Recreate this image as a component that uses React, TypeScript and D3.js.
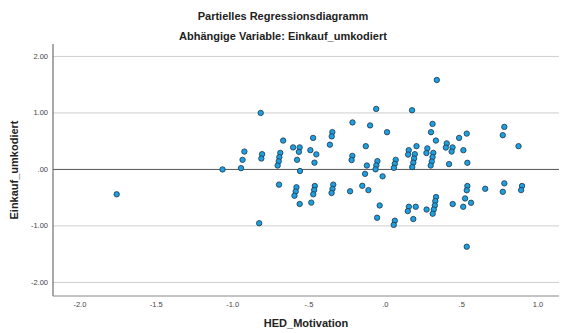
import React from "react";
import * as d3 from "d3";

const xValues: number[] = [
  -1.759, -1.066, -0.945, -0.935, -0.923, -0.816, -0.807, -0.812, -0.826, -0.669,
  -0.688, -0.694, -0.698, -0.705, -0.696, -0.604, -0.561, -0.566, -0.578, -0.559,
  -0.582, -0.587, -0.595, -0.561, -0.473, -0.491, -0.452, -0.464, -0.462, -0.466,
  -0.472, -0.485, -0.347, -0.351, -0.363, -0.341, -0.346, -0.352, -0.215, -0.216,
  -0.221, -0.231, -0.128, -0.121, -0.133, -0.151, -0.111, -0.100, -0.060, 0.011,
  -0.052, -0.059, -0.064, -0.018, -0.037, -0.054, 0.068, 0.062, 0.056, 0.062,
  0.055, 0.153, 0.149, 0.204, 0.193, 0.188, 0.183, 0.176, 0.175, 0.154,
  0.147, 0.199, 0.183, 0.270, 0.275, 0.269, 0.314, 0.309, 0.304, 0.297,
  0.309, 0.299, 0.331, 0.337, 0.332, 0.327, 0.324, 0.317, 0.310, 0.402,
  0.396, 0.440, 0.434, 0.483, 0.417, 0.441, 0.533, 0.511, 0.537, 0.537,
  0.533, 0.522, 0.561, 0.510, 0.533, 0.654, 0.779, 0.769, 0.872, 0.779,
  0.769, 0.895, 0.889,
];

const yValues: number[] = [
  -0.440, 0.000, 0.023, 0.170, 0.316, 1.000, 0.270, 0.193, -0.952, 0.511,
  0.293, 0.217, 0.143, 0.069, -0.269, 0.390, 0.390, 0.311, 0.170, -0.028,
  -0.316, -0.390, -0.466, -0.611, 0.558, 0.341, 0.267, 0.120, -0.293, -0.364,
  -0.440, -0.587, 0.661, 0.585, 0.438, -0.269, -0.346, -0.417, 0.832, 0.240,
  0.166, -0.387, 0.412, 0.069, -0.078, -0.290, -0.366, 0.779, 1.071, 0.659,
  0.147, 0.072, 0.002, -0.122, -0.638, -0.855, 0.170, 0.099, 0.028, -0.908,
  -0.982, 0.341, 0.263, 0.412, 0.270, 0.193, 0.120, 0.042, 1.048, -0.661,
  -0.737, -0.661, -0.878, -0.710, 0.373, 0.290, 0.293, 0.217, 0.140, 0.069,
  0.806, 0.659, 0.511, 1.583, -0.489, -0.560, -0.638, -0.710, -0.784, 0.461,
  0.387, 0.390, 0.316, 0.558, 0.094, -0.613, 0.634, 0.341, 0.117, -0.293,
  -0.369, -0.514, -0.590, -0.661, -1.368, -0.343, 0.753, 0.606, 0.412, -0.246,
  -0.396, -0.293, -0.366,
];

const xTicks: number[] = [-2.0, -1.5, -1.0, -0.5, 0.0, 0.5, 1.0];
const xTickLabels: string[] = ["-2.0", "-1.5", "-1.0", "-.5", ".0", ".5", "1.0"];
const yTicks: number[] = [2, 1, 0, -1, -2];
const yTickLabels: string[] = ["2.00", "1.00", ".00", "-1.00", "-2.00"];

const title = "Partielles Regressionsdiagramm";
const subtitle = "Abhängige Variable: Einkauf_umkodiert";
const xLabel = "HED_Motivation";
const yLabel = "Einkauf_umkodiert";

export default function App() {
  const W = 561;
  const H = 333;
  const left = 53;
  const right = 559;
  const top = 44;
  const bottom = 296;

  const x = d3.scaleLinear().domain([-2.176, 1.137]).range([left, right]);
  const y = d3.scaleLinear().domain([-2.24, 2.22]).range([bottom, top]);

  const font = "'Liberation Sans', Arial, sans-serif";
  const points = xValues.map((v, i) => ({ x: v, y: yValues[i] }));

  return (
    <svg
      width={W}
      height={H}
      style={{ position: "absolute", left: 0, top: 0, background: "#fff" }}
      fontFamily={font}
    >
      <text x={283} y={20} textAnchor="middle" fontSize={11} fontWeight="bold" fill="#222">
        {title}
      </text>
      <text x={283} y={40} textAnchor="middle" fontSize={11} fontWeight="bold" fill="#222">
        {subtitle}
      </text>

      {yTicks.map((t) => (
        <line
          key={"g" + t}
          x1={left}
          x2={right}
          y1={y(t)}
          y2={y(t)}
          stroke={t === 0 ? "#555" : "#cfcfcf"}
          strokeWidth={1}
        />
      ))}

      <line x1={left} x2={left} y1={top} y2={bottom} stroke="#555" strokeWidth={1} />
      <line x1={left} x2={right} y1={bottom} y2={bottom} stroke="#888" strokeWidth={1} />

      {yTicks.map((t, i) => (
        <text
          key={"yl" + t}
          x={48}
          y={y(t) + 2.5}
          textAnchor="end"
          fontSize={7.5}
          fill="#444"
        >
          {yTickLabels[i]}
        </text>
      ))}

      {xTicks.map((t, i) => (
        <text
          key={"xl" + t}
          x={x(t)}
          y={307}
          textAnchor="middle"
          fontSize={7.5}
          fill="#444"
        >
          {xTickLabels[i]}
        </text>
      ))}

      <text x={306} y={327} textAnchor="middle" fontSize={11} fontWeight="bold" fill="#222">
        {xLabel}
      </text>
      <text
        transform={`translate(18, 170) rotate(-90)`}
        textAnchor="middle"
        fontSize={11}
        fontWeight="bold"
        fill="#222"
      >
        {yLabel}
      </text>

      {points.map((p, i) => (
        <circle
          key={i}
          cx={x(p.x)}
          cy={y(p.y)}
          r={2.7}
          fill="#1ba0e2"
          stroke="#1f3346"
          strokeWidth={0.8}
        />
      ))}
    </svg>
  );
}
